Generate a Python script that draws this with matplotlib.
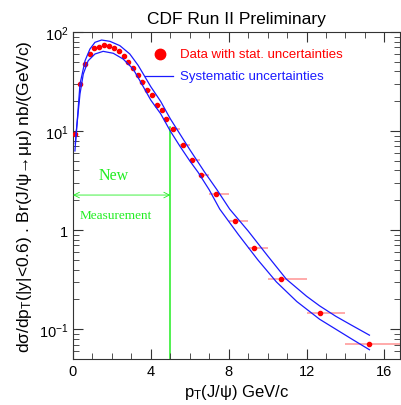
import matplotlib
matplotlib.use("Agg")
import matplotlib.pyplot as plt
import matplotlib.ticker as mticker
import numpy as np

plt.rcParams["font.family"] = ["Liberation Sans", "DejaVu Sans"]
plt.rcParams["mathtext.fontset"] = "custom"
plt.rcParams["mathtext.rm"] = "Liberation Sans"
plt.rcParams["mathtext.it"] = "Liberation Sans:italic"

# --- data points (pT bin centre, bin edges, cross section) ---
pt_data = [0.10, 0.35, 0.60, 0.85, 1.10, 1.35, 1.60, 1.85, 2.10, 2.35,
           2.60, 2.85, 3.10, 3.35, 3.57, 3.80, 4.05, 4.30, 4.55, 4.77,
           5.15, 5.66, 6.12, 6.60, 7.33, 8.34, 9.30, 10.70, 12.67, 15.23]
bin_lo = [0.00, 0.25, 0.50, 0.75, 1.00, 1.25, 1.50, 1.75, 2.00, 2.25,
          2.50, 2.75, 3.00, 3.25, 3.50, 3.75, 4.00, 4.25, 4.50, 4.75,
          5.0, 5.5, 6.0, 6.5, 7.0, 8.0, 9.0, 10.0, 12.0, 14.0]
bin_hi = [0.25, 0.50, 0.75, 1.00, 1.25, 1.50, 1.75, 2.00, 2.25, 2.50,
          2.75, 3.00, 3.25, 3.50, 3.75, 4.00, 4.25, 4.50, 4.75, 5.00,
          5.5, 6.0, 6.5, 7.0, 8.0, 9.0, 10.0, 12.0, 14.0, 17.0]
xsec = [9.3, 29.8, 47.9, 59.5, 68.9, 70.0, 74.5, 71.7, 69.0, 64.0,
        57.6, 50.0, 43.0, 37.0, 31.0, 26.0, 23.0, 18.3, 16.4, 13.2,
        10.5, 7.2, 5.1, 3.6, 2.33, 1.24, 0.653, 0.32, 0.145, 0.0705]

# --- systematic band ---
pt_up = [0.12, 0.22, 0.36, 0.62, 0.87, 1.13, 1.47, 1.90, 2.41, 2.92,
         3.35, 4.0, 4.5, 5.0, 5.5, 6.0, 6.77, 7.4, 8.05, 9.0,
         10.0, 10.96, 12.0, 12.67, 13.5, 14.3, 15.23]
sys_up = [7.5, 12.7, 29.8, 51.3, 67.3, 78.7, 83.0, 80.5, 72.8, 60.0,
          46.0, 28.0, 20.0, 13.3, 9.3, 6.5, 3.83, 2.55, 1.63, 0.98,
          0.55, 0.32, 0.215, 0.172, 0.135, 0.11, 0.087]
pt_lo = [0.10, 0.19, 0.36, 0.53, 0.78, 1.13, 1.55, 2.07, 2.58, 3.09,
         3.44, 4.0, 4.5, 5.0, 5.5, 6.0, 6.43, 7.0, 7.54, 8.5,
         9.5, 10.45, 11.5, 12.67, 13.5, 14.3, 15.23]
sys_lo = [6.3, 10.9, 23.7, 37.7, 51.3, 60.0, 63.8, 61.0, 53.3, 42.3,
          32.2, 20.5, 15.0, 10.0, 7.0, 5.0, 3.83, 2.55, 1.63, 0.90,
          0.50, 0.30, 0.19, 0.126, 0.10, 0.08, 0.062]

new_cut = 5.0
new_top = 11.0

fig = plt.figure(figsize=(4.01, 4.06), dpi=100)
ax = fig.add_axes([0.182, 0.1133, 0.8155, 0.8054])

green = "#22ee22"
blue = "#1a1aff"
pt_arr = np.array(pt_data)
xerr = [pt_arr - np.array(bin_lo), np.array(bin_hi) - pt_arr]
ax.errorbar(pt_data, xsec, xerr=xerr, fmt="none", ecolor="#ff9c9c",
            elinewidth=1.2, zorder=2)
ax.plot(pt_data, xsec, "o", color="red", markersize=3.0, zorder=3)

ax.plot(pt_up, sys_up, color=blue, lw=0.9, zorder=4)
ax.plot(pt_lo, sys_lo, color=blue, lw=0.9, zorder=4)

# "New measurement" region
ax.plot([new_cut, new_cut], [0.05, new_top], color=green, lw=1.1, zorder=1)
ax.annotate("", xy=(0.0, 2.26), xytext=(new_cut, 2.26),
            arrowprops=dict(arrowstyle="<->", color=green, lw=0.6,
                            shrinkA=0, shrinkB=0))
ax.text(2.1, 3.6, "New", color=green, fontsize=11.5, family="Liberation Serif",
        ha="center", va="center")
ax.text(2.2, 1.42, "Measurement", color=green, fontsize=9.5,
        family="Liberation Serif", ha="center", va="center")

# legend drawn by hand
ax.plot([0.266], [0.933], "o", color="red", markersize=7.5,
        transform=ax.transAxes, clip_on=False)
ax.text(0.327, 0.933, "Data with stat. uncertainties", color="red",
        fontsize=9.5, transform=ax.transAxes, va="center")
ax.plot([0.220, 0.306], [0.865, 0.865], color=blue, lw=0.9,
        transform=ax.transAxes)
ax.text(0.327, 0.865, "Systematic uncertainties", color=blue,
        fontsize=9.5, transform=ax.transAxes, va="center")

ax.set_yscale("log")
ax.set_xlim(0, 16.8)
ax.set_ylim(0.05, 100)
ax.set_xticks([0, 4, 8, 12, 16])
ax.set_xticks(np.arange(0, 17, 1), minor=True)
ax.yaxis.set_major_formatter(mticker.FuncFormatter(
    lambda v, p: "1" if abs(v - 1) < 1e-9 else r"$10^{%d}$" % round(np.log10(v))))
ax.tick_params(which="both", direction="in", top=True, right=True,
               labelsize=10.5, color="#333333")
ax.tick_params(which="major", length=7)
ax.tick_params(which="minor", length=4)
for s in ax.spines.values():
    s.set_color("#333333")

ax.set_xlabel("p$_{\\rm T}$(J/ψ) GeV/c", fontsize=12, labelpad=3)
ax.set_ylabel("dσ/dp$_{\\rm T}$(|y|<0.6) . Br(J/ψ→μμ) nb/(GeV/c)",
              fontsize=12.5, labelpad=3)

fig.text(0.589, 0.953, "CDF Run II Preliminary", fontsize=12.5,
         ha="center", va="center")

fig.savefig("out.png", dpi=100)
